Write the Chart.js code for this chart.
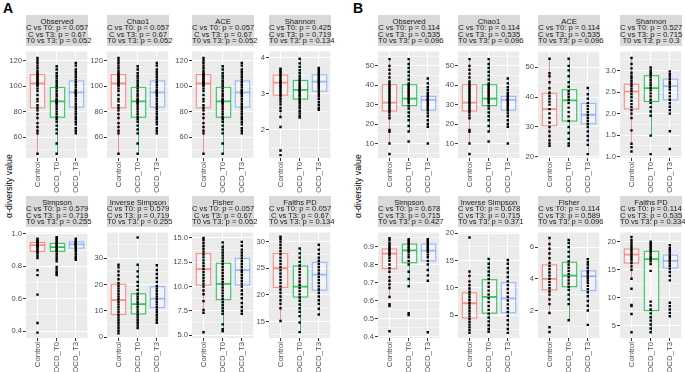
<!DOCTYPE html>
<html lang="en">
<head>
<meta charset="UTF-8">
<title>Alpha diversity</title>
<script src="https://cdn.jsdelivr.net/npm/chart.js@4.4.1/dist/chart.umd.min.js"></script>
<style>
  body { margin: 0; background: #fff; font-family: "Liberation Sans", Arial, sans-serif; }
  #fig { position: relative; width: 685px; height: 372px; overflow: hidden; background: #fff; }
  .strip { position: absolute; background: #D9D9D9; color: #1A1A1A; font-size: 7.6px; line-height: 6.6px;
           text-align: center; box-sizing: border-box; padding-top: 3.5px; white-space: nowrap; }
  .tag { position: absolute; font-weight: bold; font-size: 14px; line-height: 14px; }
  .ytitle { position: absolute; width: 100px; height: 10px; line-height: 10px; font-size: 8.8px; text-align: center;
            transform: rotate(-90deg); white-space: nowrap; }
  canvas { position: absolute; }
</style>
</head>
<body>
<div id="fig">
  <div class="tag" style="left:3px;top:1px">A</div>
  <div class="tag" style="left:353px;top:1px">B</div>
  <div class="ytitle" style="left:-41px;top:181px">α-diversity value</div>
  <div class="ytitle" style="left:308px;top:181px">α-diversity value</div>
</div>
<script>
// ---- data ----
const groups = ['Control', 'OCD_T0', 'OCD_T3'];
const metrics = ['Observed', 'Chao1', 'ACE', 'Shannon', 'Simpson', 'Inverse Simpson', 'Fisher', 'Faiths PD'];

// p-values shown in the strips
const pA_C_T0  = ['0.057', '0.057', '0.057', '0.425', '0.579', '0.579', '0.057', '0.057'];
const pA_C_T3  = ['0.67',  '0.67',  '0.67',  '0.719', '0.719', '0.719', '0.67',  '0.67'];
const pA_T0_T3 = ['0.052', '0.052', '0.052', '0.134', '0.255', '0.255', '0.052', '0.134'];
const pB_C_T0  = ['0.114', '0.114', '0.114', '0.527', '0.678', '0.678', '0.114', '0.114'];
const pB_C_T3  = ['0.535', '0.535', '0.535', '0.715', '0.715', '0.715', '0.589', '0.535'];
const pB_T0_T3 = ['0.096', '0.096', '0.096', '0.3',   '0.427', '0.371', '0.096', '0.334'];

// y axis: major ticks, limits, decimals
const ticksA = [[60,80,100,120],[60,80,100,120],[60,80,100,120],[2,3,4],[0.4,0.6,0.8,1.0],[0,10,20,30],[5,7.5,10,12.5,15],[15,20,25,30]];
const limA   = [[43.7,127],[43.7,127],[43.7,127],[1.2,4.18],[0.357,1.008],[-0.25,39.7],[4.7,15.56],[11.9,31.7]];
const decA   = [0,0,0,0,1,0,1,0];
const ticksB = [[10,20,30,40,50],[10,20,30,40,50],[20,30,40,50],[1,1.5,2,2.5,3],[0.4,0.5,0.6,0.7,0.8,0.9],[5,10,15,20],[2,4,6],[5,10,15,20]];
const limB   = [[2.5,57.4],[2.5,57.4],[19.6,55.3],[0.97,3.44],[0.393,0.977],[0.86,20.1],[0.26,6.92],[2.8,21.65]];
const decB   = [0,0,0,1,1,0,0,0];

// box stats per group: [lower whisker, q1, median, q3, upper whisker]
const boxA_Observed = [[47,83,102,109,122],[47,75.6,88,99,115.5],[63,83.5,95,104,118]];
const boxA_Chao1    = [[47,83,102,109,122],[47,75.6,88,99,115.5],[63,83.5,95,104,118]];
const boxA_ACE      = [[47,83,102,109,122],[47,75.6,88,99,115.5],[63,83.5,95,104,118]];
const boxA_Shannon  = [[2.35,2.96,3.31,3.52,3.72],[2.33,2.85,3.11,3.37,3.98],[2.55,3.07,3.34,3.53,3.72]];
const boxA_Simpson  = [[0.85,0.892,0.931,0.947,0.97],[0.83,0.892,0.918,0.941,0.98],[0.86,0.912,0.935,0.951,0.97]];
const boxA_InvSimp  = [[1.5,8.66,14.1,20.07,27.5],[3.5,8.9,12.6,16.5,27.5],[5.5,11.3,14.7,19.2,27.3]];
const boxA_Fisher   = [[7.3,10.15,11.8,13.4,15.0],[5.4,8.65,10.28,12.4,14.55],[7.2,10.15,11.7,12.9,14.6]];
const boxA_Faith    = [[15.1,21.4,25.0,27.75,30.9],[13.0,19.6,21.55,25.4,28.7],[16.3,20.9,23.8,26.1,29.4]];

const boxB_Observed = [[10,26.75,31.1,40.3,53.5],[16.2,29.5,33.1,40.3,53.5],[18.6,27.2,32.5,34.3,43.5]];
const boxB_Chao1    = [[10,26.75,31.1,40.3,53.5],[16.2,29.5,33.1,40.3,53.5],[18.6,27.2,32.5,34.3,43.5]];
const boxB_ACE      = [[23.7,30.4,36.0,41.3,52.9],[23.7,32.0,38.9,42.5,52.9],[20.9,31.1,34.1,37.9,43.1]];
const boxB_Shannon  = [[1.3,2.11,2.51,2.68,3.29],[1.49,2.28,2.59,2.88,3.07],[2.0,2.32,2.64,2.80,2.98]];
const boxB_Simpson  = [[0.62,0.777,0.86,0.886,0.946],[0.68,0.81,0.878,0.913,0.94],[0.73,0.82,0.877,0.913,0.94]];
const boxB_InvSimp  = [[1.8,4.5,7.2,9.1,13],[2.0,5.4,8.36,11.5,15.3],[1.8,5.5,8.1,10.95,15.1]];
const boxB_Fisher   = [[1.84,3.3,4.0,4.88,6.58],[1.38,3.5,4.2,5.04,6.45],[2.0,3.26,4.16,4.5,5.24]];
const boxB_Faith    = [[13.4,16.2,17.7,18.7,20.85],[3.84,7.7,16.9,18.3,20.0],[13.1,15.3,16.6,17.6,19.4]];

// sample points per group
const ptsA_Observed = [
  [47,63,65,68,71,75,78,81,83,85,88,90,93,96,98,100,101,102,103,104,105,106,107,108,109,110,112,114,116,118,120,122],
  [47,55,63,66,69,72,74,76,78,80,82,84,86,87,88,89,90,92,94,96,98,100,102,104,106,108,110,113,115.5],
  [63,65,67,70,72,74,76,78,80,82,84,86,88,90,92,94,95,96,97,99,101,103,105,107,109,111,113,116,118]];
const ptsA_Chao1 = ptsA_Observed;
const ptsA_ACE = ptsA_Observed;
const ptsA_Shannon = [
  [1.28,1.41,2.07,2.35,2.52,2.6,2.7,2.78,2.86,2.93,2.98,3.03,3.08,3.13,3.18,3.22,3.27,3.31,3.35,3.4,3.45,3.5,3.55,3.6,3.65,3.7],
  [2.33,2.38,2.45,2.52,2.6,2.67,2.74,2.8,2.86,2.92,2.97,3.02,3.07,3.11,3.16,3.21,3.26,3.31,3.37,3.43,3.5,3.58,3.66,3.75,3.85,3.98],
  [2.55,2.6,2.68,2.76,2.85,2.93,3.0,3.06,3.12,3.17,3.22,3.27,3.31,3.35,3.39,3.43,3.48,3.53,3.58,3.63,3.68,3.72]];
const ptsA_Simpson = [
  [0.39,0.45,0.625,0.745,0.775,0.85,0.865,0.88,0.89,0.9,0.91,0.92,0.925,0.93,0.935,0.94,0.945,0.95,0.955,0.96,0.97],
  [0.745,0.755,0.765,0.78,0.795,0.83,0.845,0.86,0.875,0.89,0.9,0.91,0.92,0.93,0.94,0.95,0.96,0.97,0.98],
  [0.84,0.85,0.86,0.875,0.89,0.9,0.91,0.92,0.93,0.935,0.94,0.945,0.95,0.96,0.97]];
const ptsA_InvSimp = [
  [1.5,2.5,3.5,4.5,5.5,6.5,7.5,8.5,9.5,10.5,11.5,12.5,13.5,14.5,15.5,16.5,17.5,18.5,19.5,20.5,22,23.5,25,26.5,27.5],
  [3.5,4.5,5.5,6.5,7.5,8.5,9.5,10.5,11.5,12.5,13.5,14.5,15.5,16.5,18,19.5,21,23,25,27.5,37.8],
  [5.5,6.5,7.5,8.5,9.5,10.5,11.5,12.5,13.5,14.5,15.5,16.5,17.5,18.5,19.5,21,22.5,24,25.5,27.3]];
const ptsA_Fisher = [
  [5.3,7.3,7.6,8.5,9.2,9.6,10.0,10.3,10.6,10.9,11.2,11.5,11.8,12.1,12.4,12.7,13.0,13.3,13.6,13.9,14.2,14.5,14.8,15.0],
  [5.4,5.6,6.1,7.2,7.5,7.8,8.1,8.4,8.7,9.0,9.3,9.6,9.9,10.2,10.5,10.8,11.1,11.4,11.7,12.0,12.3,12.6,12.9,13.2,13.5,13.8,14.1,14.55],
  [7.2,7.5,7.9,8.3,8.8,9.2,9.6,10.0,10.3,10.6,10.9,11.2,11.5,11.7,12.0,12.3,12.6,12.9,13.2,13.5,13.8,14.2,14.6]];
const ptsA_Faith = [
  [15.1,17.5,18.3,19.0,19.7,20.4,21.0,21.6,22.2,22.8,23.4,24.0,24.6,25.2,25.8,26.4,27.0,27.6,28.2,28.8,29.4,30.0,30.5,30.9],
  [13.0,14.8,16.0,16.8,17.5,18.2,18.9,19.5,20.1,20.7,21.3,21.9,22.5,23.1,23.7,24.3,24.9,25.5,26.2,27.0,27.8,28.7],
  [16.3,17.4,18.3,19.0,19.7,20.4,21.0,21.6,22.2,22.8,23.4,24.0,24.6,25.2,25.8,26.4,27.0,27.7,28.5,29.4]];

const ptsB_Observed = [
  [4.6,10,16,17,23,24.5,26,27,28,29,30,31,32,33,34,35,36,37,38,39,40,41,42,44,46,48,50,53.5],
  [11,16.2,19,22,24,26,28,29.5,31,32,33,34,35,36,37,38,39,40,41,43,45,47,49,51,53.5],
  [10,18.6,20,22,24,25.5,27,28,29,30,31,32,32.5,33,34,35,36,37.5,39,41,43.5]];
const ptsB_Chao1 = ptsB_Observed;
const ptsB_ACE = [
  [23.7,24.5,25.5,27,28.5,30,31.5,33,34.5,36,37.5,38.5,39.5,40.5,41.5,43,45,47,48,52.9],
  [23.7,24.5,26,28,30,32,33.5,35,36.5,38,39,40,41,42,43.5,45,47,49,50.5,52.9],
  [20.9,24,25.5,27,28.5,30,31,32,33,34,35,36,37,38,39.5,41,43.1]];
const ptsB_Shannon = [
  [1.12,1.22,1.3,1.61,1.9,2.0,2.08,2.15,2.22,2.3,2.38,2.45,2.52,2.58,2.64,2.7,2.76,2.82,2.88,2.95,3.05,3.15,3.29],
  [1.06,1.49,1.95,2.05,2.15,2.25,2.32,2.4,2.47,2.54,2.6,2.66,2.72,2.78,2.84,2.9,2.95,3.0,3.07],
  [1.18,1.59,2.0,2.08,2.16,2.24,2.32,2.4,2.48,2.56,2.62,2.68,2.74,2.8,2.86,2.92,2.98]];
const ptsB_Simpson = [
  [0.43,0.57,0.58,0.62,0.67,0.69,0.71,0.73,0.76,0.78,0.8,0.82,0.835,0.85,0.86,0.87,0.88,0.89,0.9,0.91,0.92,0.935,0.946],
  [0.52,0.53,0.68,0.72,0.76,0.8,0.82,0.84,0.855,0.87,0.88,0.89,0.9,0.91,0.92,0.93,0.94],
  [0.425,0.71,0.74,0.77,0.8,0.82,0.84,0.855,0.87,0.88,0.89,0.9,0.91,0.92,0.93,0.94]];
const ptsB_InvSimp = [
  [1.8,2.3,2.8,3.3,3.8,4.3,4.8,5.3,5.8,6.3,6.8,7.3,7.8,8.3,8.8,9.3,9.9,10.5,11.2,12.2,13,19.2],
  [2.0,2.5,3.2,3.9,4.6,5.3,6.0,6.7,7.4,8.1,8.8,9.5,10.2,10.9,11.6,12.3,13.0,13.7,14.4,15.3],
  [1.8,2.5,3.3,4.1,4.9,5.6,6.3,7.0,7.7,8.4,9.1,9.8,10.5,11.2,12.0,12.8,13.6,14.4,15.1]];
const ptsB_Fisher = [
  [0.64,0.94,1.84,2.4,2.7,3.0,3.2,3.4,3.6,3.8,4.0,4.2,4.4,4.6,4.8,5.0,5.3,5.6,5.9,6.2,6.58],
  [1.38,2.4,2.7,3.0,3.3,3.5,3.7,3.9,4.1,4.3,4.5,4.7,4.9,5.1,5.4,5.7,6.0,6.25,6.45],
  [1.09,2.0,2.3,2.6,2.9,3.15,3.35,3.55,3.75,3.9,4.05,4.2,4.35,4.5,4.7,4.9,5.05,5.24]];
const ptsB_Faith = [
  [3.84,7.1,8.5,8.7,11.6,13.4,15.0,15.6,16.2,16.7,17.1,17.5,17.9,18.3,18.7,19.1,19.5,19.9,20.3,20.85],
  [3.84,4.5,5.2,5.9,6.5,7.2,7.9,8.6,9.3,14.8,16.0,16.5,16.9,17.3,17.7,18.1,18.5,18.9,19.3,19.6,20.0],
  [6.7,7.3,7.9,8.5,9.1,13.1,13.9,14.6,15.2,15.7,16.1,16.5,16.9,17.3,17.7,18.1,18.5,18.9,19.4]];

// ---- layout ----
const boxesA = [boxA_Observed, boxA_Chao1, boxA_ACE, boxA_Shannon, boxA_Simpson, boxA_InvSimp, boxA_Fisher, boxA_Faith];
const boxesB = [boxB_Observed, boxB_Chao1, boxB_ACE, boxB_Shannon, boxB_Simpson, boxB_InvSimp, boxB_Fisher, boxB_Faith];
const pointsA = [ptsA_Observed, ptsA_Chao1, ptsA_ACE, ptsA_Shannon, ptsA_Simpson, ptsA_InvSimp, ptsA_Fisher, ptsA_Faith];
const pointsB = [ptsB_Observed, ptsB_Chao1, ptsB_ACE, ptsB_Shannon, ptsB_Simpson, ptsB_InvSimp, ptsB_Fisher, ptsB_Faith];

const colLeft = { A: [26, 107, 192, 269], B: [378, 458, 538, 620] };
const rowTop = [46, 227];
const rowH = [112, 111];
const panelW = 62, stripH = 31, yAxisW = 24, xAxisH = 36;
const lineCols = ['rgba(248,118,109,0.8)', 'rgba(0,186,56,0.8)', 'rgba(97,156,255,0.65)'];
const FONT = '"Liberation Sans", Arial, sans-serif';

function boxPlugin(stats) {
  return {
    id: 'boxes',
    beforeDraw(chart) {
      const { ctx, chartArea: a } = chart;
      ctx.save();
      ctx.fillStyle = '#EBEBEB';
      ctx.fillRect(a.left, a.top, a.right - a.left, a.bottom - a.top);
      ctx.restore();
    },
    beforeDatasetsDraw(chart) {
      const { ctx, chartArea: a, scales: { x, y } } = chart;
      ctx.save();
      ctx.beginPath();
      ctx.rect(a.left, a.top, a.right - a.left, a.bottom - a.top);
      ctx.clip();
      stats.forEach((s, i) => {
        const cx = Math.round(x.getPixelForValue(i + 1)) + 0.5;
        const hw = (x.getPixelForValue(1.375) - x.getPixelForValue(1));
        const [lo, q1, med, q3, hi] = s.map(v => y.getPixelForValue(v));
        ctx.strokeStyle = lineCols[i];
        ctx.lineWidth = 1;
        ctx.beginPath();
        ctx.moveTo(cx, lo); ctx.lineTo(cx, q1);
        ctx.moveTo(cx, q3); ctx.lineTo(cx, hi);
        ctx.stroke();
        ctx.fillStyle = 'rgba(255,255,255,0.35)';
        ctx.fillRect(cx - hw, q3, hw * 2, q1 - q3);
        ctx.lineWidth = 1.1;
        ctx.strokeRect(cx - hw, q3, hw * 2, q1 - q3);
        ctx.lineWidth = 1.8;
        ctx.beginPath();
        ctx.moveTo(cx - hw, med); ctx.lineTo(cx + hw, med);
        ctx.stroke();
      });
      ctx.restore();
    }
  };
}

function makeFacet(panel, k, stats, pts, majors, lim, dec, pv) {
  const fig = document.getElementById('fig');
  const row = k < 4 ? 0 : 1;
  const left = colLeft[panel][k % 4];
  const top = rowTop[row];
  const h = rowH[row];

  const strip = document.createElement('div');
  strip.className = 'strip';
  strip.style.left = left + 'px';
  strip.style.top = (top - stripH) + 'px';
  strip.style.width = panelW + 'px';
  strip.style.height = stripH + 'px';
  strip.innerHTML = metrics[k] + '<br>C vs T0: p = ' + pv[0] + '<br>C vs T3: p = ' + pv[1] + '<br>T0 vs T3: p = ' + pv[2];
  fig.appendChild(strip);

  const cv = document.createElement('canvas');
  cv.width = yAxisW + panelW + 1;
  cv.height = h + xAxisH;
  cv.style.left = (left - yAxisW) + 'px';
  cv.style.top = top + 'px';
  fig.appendChild(cv);

  // minor breaks half way between majors
  const step = majors[1] - majors[0];
  const all = [];
  [majors[0] - step / 2, ...majors.map(m => m + step / 2)].forEach(v => { if (v > lim[0] && v < lim[1]) all.push(v); });
  all.push(...majors);
  all.sort((a, b) => a - b);
  const isMajor = v => majors.some(m => Math.abs(m - v) < 1e-9);

  new Chart(cv, {
    type: 'scatter',
    data: {
      datasets: [{
        data: pts.flatMap((g, i) => g.map(v => ({ x: i + 1, y: v }))),
        pointStyle: 'rect',
        pointRadius: 1.7,
        pointHoverRadius: 1.7,
        backgroundColor: '#000',
        borderWidth: 0
      }]
    },
    options: {
      responsive: false,
      animation: false,
      devicePixelRatio: 1,
      events: [],
      layout: { padding: { left: 0, right: 1, top: 0, bottom: 0 } },
      plugins: { legend: { display: false }, tooltip: { enabled: false } },
      scales: {
        x: {
          type: 'linear', min: 0.4, max: 3.6,
          afterBuildTicks: s => { s.ticks = [1, 2, 3].map(v => ({ value: v })); },
          afterFit: s => { s.height = xAxisH; },
          ticks: { callback: v => groups[v - 1], minRotation: 90, maxRotation: 90, autoSkip: false,
                   font: { size: 7.8, family: FONT }, color: '#4D4D4D', padding: 1 },
          grid: { color: '#FFFFFF', lineWidth: 1, tickColor: '#333333', tickLength: 3, tickWidth: 1 },
          border: { display: false }
        },
        y: {
          type: 'linear', min: lim[0], max: lim[1],
          afterBuildTicks: s => { s.ticks = all.map(v => ({ value: v })); },
          afterFit: s => { s.width = yAxisW; },
          ticks: { callback: v => isMajor(v) ? v.toFixed(dec) : '', autoSkip: false,
                   font: { size: 7.6, family: FONT }, color: '#4D4D4D', padding: 1 },
          grid: {
            color: '#FFFFFF',
            lineWidth: c => (c.tick && !isMajor(c.tick.value)) ? 0.5 : 1,
            tickColor: c => (c.tick && !isMajor(c.tick.value)) ? 'rgba(0,0,0,0)' : '#333333',
            tickLength: 3, tickWidth: 1
          },
          border: { display: false }
        }
      }
    },
    plugins: [boxPlugin(stats)]
  });
}

for (let k = 0; k < 8; k++) {
  makeFacet('A', k, boxesA[k], pointsA[k], ticksA[k], limA[k], decA[k], [pA_C_T0[k], pA_C_T3[k], pA_T0_T3[k]]);
  makeFacet('B', k, boxesB[k], pointsB[k], ticksB[k], limB[k], decB[k], [pB_C_T0[k], pB_C_T3[k], pB_T0_T3[k]]);
}
</script>
</body>
</html>
